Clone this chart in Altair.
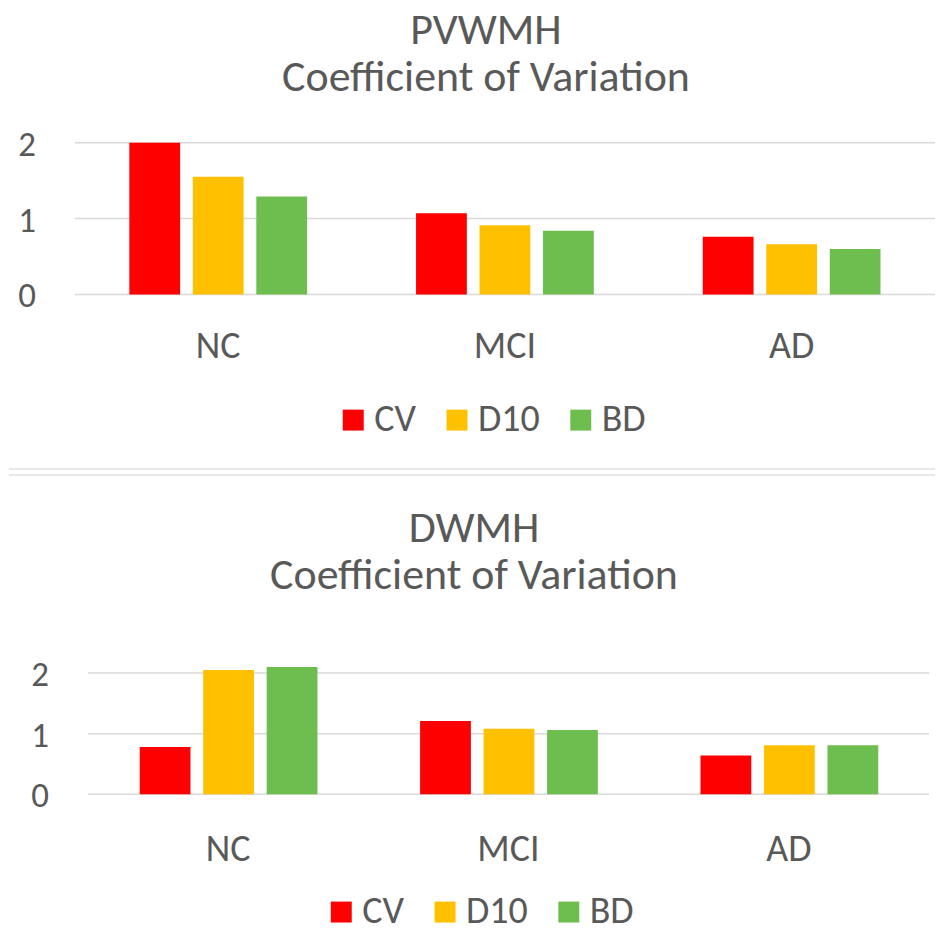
import altair as alt
import pandas as pd

groups = ["NC", "MCI", "AD"]
series = ["CV", "D10", "BD"]
colors = ["#FF0000", "#FFC000", "#6EBE4F"]

pvwmh_cv = [2.00, 1.07, 0.76]
pvwmh_d10 = [1.55, 0.91, 0.66]
pvwmh_bd = [1.29, 0.84, 0.60]

dwmh_cv = [0.78, 1.21, 0.64]
dwmh_d10 = [2.05, 1.08, 0.81]
dwmh_bd = [2.10, 1.06, 0.81]

y_ticks = [0, 1, 2]
y_tick_labels = ["0", "1", "2"]

FONT = "Carlito, Open Sans, sans-serif"
TXT = "#595959"
GRID = "#D9D9D9"
LBL = 38
YLBL = 35


def make_df(cv, d10, bd):
    rows = []
    for s, vals in zip(series, [cv, d10, bd]):
        for g, v in zip(groups, vals):
            rows.append({"group": g, "series": s, "value": v})
    return pd.DataFrame(rows)


def panel(df, title, width, height, ymax, xrange, pin, pout, opin,
          ypad, xpad, legx, legy, tdx, toff):
    tick_df = pd.DataFrame({"value": y_ticks, "label": y_tick_labels})
    yscale = alt.Scale(domain=[0, ymax], nice=False, zero=True)
    bars = alt.Chart(df).mark_bar().encode(
        x=alt.X("group:N", sort=groups,
                scale=alt.Scale(range=xrange, paddingInner=pin, paddingOuter=pout),
                axis=alt.Axis(title=None, labelAngle=0, domain=False, ticks=False,
                              grid=False, labelFont=FONT, labelFontSize=LBL,
                              labelColor=TXT, labelPadding=xpad, labelOverlap=False)),
        xOffset=alt.XOffset("series:N", sort=series,
                            scale=alt.Scale(paddingInner=opin, paddingOuter=0)),
        y=alt.Y("value:Q", scale=yscale, axis=None),
        color=alt.Color("series:N", sort=series,
                        scale=alt.Scale(domain=series, range=colors),
                        legend=alt.Legend(orient="none", legendX=legx, legendY=legy,
                                          direction="horizontal", title=None,
                                          symbolType="square", symbolSize=441,
                                          symbolStrokeWidth=0, labelFont=FONT,
                                          labelFontSize=LBL, labelColor=TXT,
                                          labelOffset=2, columnPadding=22,
                                          padding=0)),
    )
    grid = alt.Chart(tick_df).mark_rule(color=GRID, strokeWidth=1.5).encode(
        y=alt.Y("value:Q", scale=yscale, axis=None),
        x=alt.value(xrange[0]), x2=alt.value(xrange[1]),
    )
    ylabels = alt.Chart(tick_df).mark_text(
        align="right", baseline="middle", font=FONT, fontSize=YLBL, color=TXT, dy=2
    ).encode(
        y=alt.Y("value:Q", scale=yscale, axis=None),
        x=alt.value(-ypad),
        text="label:N",
    )
    return alt.layer(grid, bars, ylabels).properties(
        width=width, height=height,
        title=alt.Title([title, "Coefficient of Variation"], font=FONT, fontSize=44,
                        fontWeight="normal", color=TXT, lineHeight=47,
                        anchor="middle", frame="group", dx=tdx, offset=toff),
    )


top_df = make_df(pvwmh_cv, pvwmh_d10, pvwmh_bd)
bot_df = make_df(dwmh_cv, dwmh_d10, dwmh_bd)

top = panel(top_df, "PVWMH", 862, 152, 2, [0, 862], 0.38, 0.19, 0.2,
            39, 33, 260, 259, -19, 28)
sep1 = alt.Chart(top_df).mark_rule(color="#E8E8E8", strokeWidth=2).encode(
    x=alt.value(-66), x2=alt.value(862), y=alt.value(327))
sep2 = alt.Chart(top_df).mark_rule(color="#E8E8E8", strokeWidth=2).encode(
    x=alt.value(-66), x2=alt.value(862), y=alt.value(333))
top_layer = alt.layer(top, sep1, sep2)

bottom = panel(bot_df, "DWMH", 856, 152, 2.5, [13, 856], 0.37, 0.185, 0.213,
               26, 36, 248, 251, -28, 45)

chart = alt.vconcat(top_layer, bottom, spacing=31).resolve_scale(
    color="independent").resolve_legend(color="independent").properties(
    padding=0).configure_view(stroke=None)

chart.save("out.html", embed_options={"renderer": "svg", "actions": False})
